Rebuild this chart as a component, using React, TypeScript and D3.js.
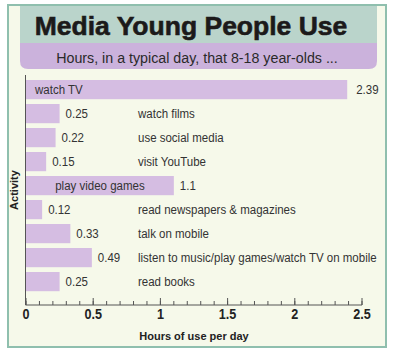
import React from "react";
import * as d3 from "d3";

const categories = [
  "watch TV",
  "watch films",
  "use social media",
  "visit YouTube",
  "play video games",
  "read newspapers & magazines",
  "talk on mobile",
  "listen to music/play games/watch TV on mobile",
  "read books",
];
const hours = [2.39, 0.25, 0.22, 0.15, 1.1, 0.12, 0.33, 0.49, 0.25];
const valueLabels = ["2.39", "0.25", "0.22", "0.15", "1.1", "0.12", "0.33", "0.49", "0.25"];
const majorTicks = [0, 0.5, 1, 1.5, 2, 2.5];
const tickLabels = ["0", "0.5", "1", "1.5", "2", "2.5"];

const title = "Media Young People Use";
const subtitle = "Hours, in a typical day, that 8-18 year-olds ...";
const xTitle = "Hours of use per day";
const yTitle = "Activity";

const W = 394;
const H = 355;
const FONT = "'Liberation Sans', Arial, Helvetica, sans-serif";
const SX = 0.92;

function NText({
  x,
  y,
  anchor = "start",
  size = 12.5,
  fill = "#333",
  weight = "normal",
  sx = SX,
  children,
}: any) {
  return (
    <text
      transform={`translate(${x},${y}) scale(${sx},1)`}
      textAnchor={anchor}
      fontSize={size}
      fontWeight={weight}
      fill={fill}
    >
      {children}
    </text>
  );
}

export default function App() {
  const x = d3.scaleLinear().domain([0, 2.5]).range([26, 362]);
  const y = d3
    .scaleBand<string>()
    .domain(categories)
    .range([77.6, 293.6])
    .paddingInner(0.2)
    .paddingOuter(0.1);
  const minorTicks = d3.range(0, 26).map((i) => i / 10);
  const axisY = 305;
  const catX = 138;

  return (
    <svg
      width={W}
      height={H}
      style={{ position: "absolute", left: 0, top: 0, display: "block" }}
      fontFamily={FONT}
    >
      <rect x={0} y={0} width={W} height={H} fill="#ffffff" />
      <rect x={8} y={5} width={378} height={342} fill="#f6f9ea" stroke="#8fbfae" strokeWidth={2} />
      {/* header */}
      <path d={`M20,6 H377 V61 Q377,69 369,69 H28 Q20,69 20,61 Z`} fill="#cbb2dc" />
      <rect x={20} y={6} width={357} height={37} fill="#bad4cb" />
      <text
        x={191}
        y={35}
        textAnchor="middle"
        fontSize={26.5}
        fontWeight="bold"
        fill="#1c1a1a"
        stroke="#1c1a1a"
        strokeWidth={0.6}
      >
        {title}
      </text>
      <NText x={197} y={63} anchor="middle" size={15.5} fill="#2a2a2a" sx={0.92}>
        {subtitle}
      </NText>

      {/* bars */}
      {categories.map((c, i) => {
        const y0 = y(c)!;
        const bw = y.bandwidth();
        const x1 = x(hours[i]);
        const cy = y0 + bw / 2 + 4.5;
        const inside = hours[i] >= 1;
        const leftAlign = hours[i] >= 2;
        return (
          <g key={c}>
            <rect x={x(0)} y={y0} width={x1 - x(0)} height={bw} fill="#d5bde2" />
            <NText x={x1 + (leftAlign ? 9 : 6)} y={cy}>
              {valueLabels[i]}
            </NText>
            {inside ? (
              <NText
                x={leftAlign ? x(0) + 9 : (x(0) + x1) / 2}
                y={cy}
                anchor={leftAlign ? "start" : "middle"}
              >
                {c}
              </NText>
            ) : (
              <NText x={catX} y={cy}>
                {c}
              </NText>
            )}
          </g>
        );
      })}

      {/* axes */}
      <line x1={25.5} y1={75} x2={25.5} y2={axisY} stroke="#555" strokeWidth={1} />
      <line x1={25.5} y1={axisY} x2={x(2.5)} y2={axisY} stroke="#555" strokeWidth={1} />
      {minorTicks.map((t) => (
        <line key={"m" + t} x1={x(t)} x2={x(t)} y1={axisY} y2={axisY - 4} stroke="#555" strokeWidth={1} />
      ))}
      {majorTicks.map((t, i) => (
        <g key={"M" + t}>
          <line x1={x(t)} x2={x(t)} y1={axisY} y2={axisY - 7} stroke="#555" strokeWidth={1} />
          <NText x={x(t)} y={319} anchor="middle" size={14} weight="bold" fill="#222" sx={0.9}>
            {tickLabels[i]}
          </NText>
        </g>
      ))}
      <text x={194} y={340} textAnchor="middle" fontSize={11} fontWeight="bold" fill="#222">
        {xTitle}
      </text>
      <text
        transform={`translate(18,190) rotate(-90)`}
        textAnchor="middle"
        fontSize={11}
        fontWeight="bold"
        fill="#222"
      >
        {yTitle}
      </text>
    </svg>
  );
}
